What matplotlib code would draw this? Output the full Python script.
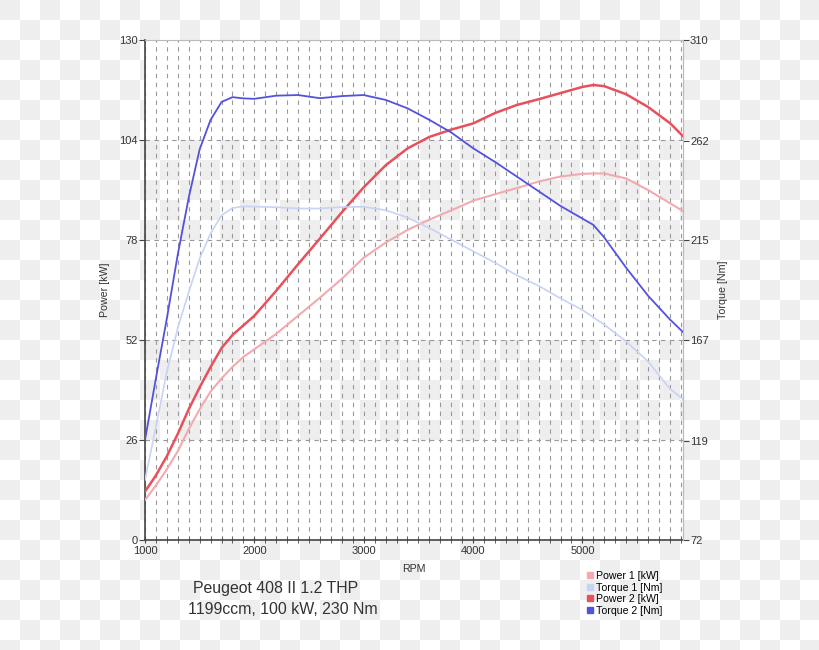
import numpy as np
import matplotlib
matplotlib.use('Agg')
import matplotlib.pyplot as plt
from matplotlib.lines import Line2D

plt.rcParams['font.family'] = ['Liberation Sans', 'DejaVu Sans']

rpm = [1000, 1100, 1200, 1300, 1400, 1500, 1600, 1700, 1800, 1900, 2000,
       2200, 2400, 2600, 2800, 3000, 3200, 3400, 3600, 3800, 4000,
       4200, 4400, 4600, 4800, 5000, 5100, 5200, 5400, 5600, 5800, 5920]
power1 = [10.4, 14.2, 18.4, 23.1, 28.8, 34.0, 38.6, 42.0, 45.0, 47.6, 49.6,
          53.6, 58.3, 63.0, 67.9, 73.4, 77.3, 80.6, 83.3, 85.7, 88.2,
          89.9, 91.5, 93.2, 94.5, 95.2, 95.3, 95.3, 94.0, 91.0, 87.6, 85.5]
torque1 = [100.6, 126, 152, 173, 190, 206, 218, 226.5, 230, 230.8, 230.7,
           230.4, 229.8, 229.8, 230.5, 230.6, 229, 225.5, 220.5, 215, 209.5,
           204, 198, 193, 187, 181.5, 178, 174.5, 166.5, 157, 144, 139]
power2 = [12.6, 16.8, 21.8, 27.6, 34.0, 39.7, 45.0, 49.9, 53.3, 55.8, 58.3,
          64.8, 71.7, 78.4, 85.2, 91.7, 97.4, 101.8, 104.8, 106.7, 108.3,
          111.0, 113.1, 114.6, 116.2, 117.8, 118.3, 118.0, 115.9, 112.6, 108.4, 105.0]
torque2 = [119.6, 149, 177.5, 208, 235, 258, 272, 280.5, 282.8, 282.2, 282,
           283.5, 283.8, 282.3, 283.3, 283.8, 281.5, 277.5, 272, 266, 258.5,
           252, 245, 238, 231, 225, 222, 216, 201.6, 188.3, 177, 171]

kw_ticks = [0, 26, 52, 78, 104, 130]
nm_ticks = [72, 119, 167, 215, 262, 310]
rpm_ticks = [1000, 2000, 3000, 4000, 5000]

c_p1, c_t1, c_p2, c_t2 = '#f2aab0', '#c8d3f5', '#e8505b', '#5252e0'

fig = plt.figure(figsize=(8.2, 6.5), dpi=100)

# schachbrett hintergrund (transparenz-muster)
yy, xx = np.indices((650, 820))
chk = ((yy // 20 + xx // 20) % 2 == 0)
img = np.where(chk, 0.937, 1.0)
img = np.dstack([img, img, img])
bg = fig.add_axes([0, 0, 1, 1], zorder=-1)
bg.imshow(img, aspect='auto', interpolation='nearest')
bg.axis('off')

ax = fig.add_axes([145/820, 110/650, 538/820, 500/650], zorder=1)
ax.patch.set_alpha(0)
ax.set_xlim(1000, 5920)
ax.set_ylim(0, 130)

for lo, hi in [(0, 26), (52, 78), (104, 130)]:
    ax.axhspan(lo, hi, color='white', zorder=0, lw=0)

ax.set_xticks(rpm_ticks)
ax.set_xticks(np.arange(1000, 5901, 100), minor=True)
ax.set_yticks(kw_ticks)
ax.grid(which='both', axis='x', color='#999999', linestyle=(0, (4, 4)), lw=0.8)
ax.grid(which='major', axis='y', color='#999999', linestyle=(0, (4, 4)), lw=0.8)
ax.set_axisbelow(True)

ax.plot(rpm, power1, color=c_p1, lw=1.5, zorder=3)
ax.plot(rpm, power2, color=c_p2, lw=1.8, zorder=3)

ax.tick_params(axis='x', which='both', direction='inout', length=4, color='#444444',
               labelsize=8, labelcolor='#333333', pad=2)
ax.tick_params(axis='y', direction='out', length=4, color='#444444',
               labelsize=8, labelcolor='#333333', pad=1)
for s in ['left', 'bottom']:
    ax.spines[s].set_color('#444444')
    ax.spines[s].set_linewidth(1.2)
for s in ['top', 'right']:
    ax.spines[s].set_color('#bbbbbb')
    ax.spines[s].set_linewidth(0.8)
ax.set_xlabel('RPM', fontsize=7.7, color='#333333', labelpad=6)
ax.set_ylabel('Power [kW]', fontsize=7.7, color='#333333', labelpad=7)

ax2 = ax.twinx()
ax2.set_ylim(72, 310)
ax2.set_yticks(nm_ticks)
ax2.plot(rpm, torque1, color=c_t1, lw=1.2, zorder=3)
ax2.plot(rpm, torque2, color=c_t2, lw=1.3, zorder=3)
ax2.tick_params(axis='y', direction='out', length=4, color='#444444',
                labelsize=8, labelcolor='#333333', pad=1)
for s in ['left', 'top', 'bottom']:
    ax2.spines[s].set_visible(False)
ax2.spines['right'].set_color('#bbbbbb')
ax2.spines['right'].set_linewidth(0.8)
ax2.set_ylabel('Torque [Nm]', fontsize=7.7, color='#333333', labelpad=7)

fig.text(193/820, 1 - 588/650, 'Peugeot 408 II 1.2 THP', fontsize=11.4,
         color='#333333', va='center')
fig.text(188/820, 1 - 609/650, '1199ccm, 100 kW, 230 Nm', fontsize=11.4,
         color='#333333', va='center')

handles = [Line2D([], [], marker='s', ls='none', color=c, markersize=4.5)
           for c in [c_p1, c_t1, c_p2, c_t2]]
labels = ['Power 1 [kW]', 'Torque 1 [Nm]', 'Power 2 [kW]', 'Torque 2 [Nm]']
fig.legend(handles, labels, loc='upper left', bbox_to_anchor=(587/820, 1 - 571/650),
           frameon=False, fontsize=7.6, handlelength=0.6, handletextpad=0.3,
           labelspacing=0.15, borderpad=0, borderaxespad=0)

fig.savefig('out.png', dpi=100)
